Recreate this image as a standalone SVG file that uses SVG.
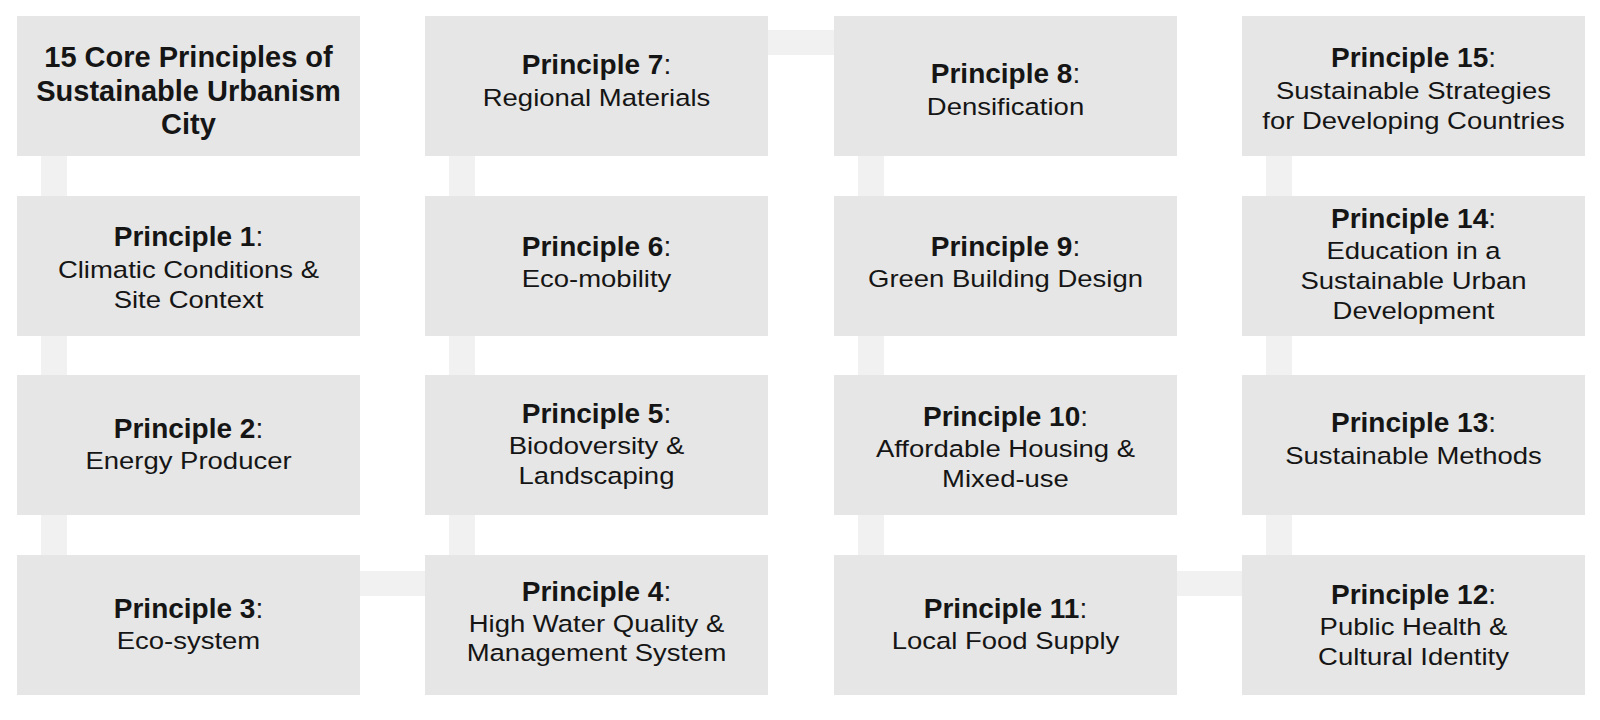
<svg xmlns="http://www.w3.org/2000/svg" width="1600" height="720" viewBox="0 0 1600 720">
<style>
.box{fill:#e6e6e6}
.con{fill:#f1f1f1}
text{font-family:"Liberation Sans",Arial,sans-serif;fill:#151515;text-anchor:middle}
.h{font-size:28px;font-weight:bold}
.t{font-size:29px;font-weight:bold}
.h tspan.c{font-weight:normal}
.s{font-size:23.5px}
</style>
<rect width="1600" height="720" fill="#ffffff"/>
<g id="connectors">
<rect class="con" x="41" y="156" width="26" height="40"/>
<rect class="con" x="41" y="336" width="26" height="39"/>
<rect class="con" x="41" y="515" width="26" height="40"/>
<rect class="con" x="360" y="571" width="65" height="25"/>
<rect class="con" x="449" y="515" width="26" height="40"/>
<rect class="con" x="449" y="336" width="26" height="39"/>
<rect class="con" x="449" y="156" width="26" height="40"/>
<rect class="con" x="768" y="30" width="66" height="25"/>
<rect class="con" x="858" y="156" width="26" height="40"/>
<rect class="con" x="858" y="336" width="26" height="39"/>
<rect class="con" x="858" y="515" width="26" height="40"/>
<rect class="con" x="1177" y="571" width="65" height="25"/>
<rect class="con" x="1266" y="515" width="26" height="40"/>
<rect class="con" x="1266" y="336" width="26" height="39"/>
<rect class="con" x="1266" y="156" width="26" height="40"/>
</g>
<g id="title">
<rect class="box" x="17" y="16" width="343" height="140"/>
<text class="t" x="188.5" y="67">15 Core Principles of</text>
<text class="t" x="188.5" y="101">Sustainable Urbanism</text>
<text class="t" x="188.5" y="134">City</text>
</g>
<g id="p1">
<rect class="box" x="17" y="196" width="343" height="140"/>
<text class="h" x="188.5" y="246">Principle 1<tspan class="c">:</tspan></text>
<text class="s" transform="translate(188.5 0) scale(1.17 1)" x="0" y="278">Climatic Conditions &amp;</text>
<text class="s" transform="translate(188.5 0) scale(1.17 1)" x="0" y="308">Site Context</text>
</g>
<g id="p2">
<rect class="box" x="17" y="375" width="343" height="140"/>
<text class="h" x="188.5" y="438">Principle 2<tspan class="c">:</tspan></text>
<text class="s" transform="translate(188.5 0) scale(1.17 1)" x="0" y="469">Energy Producer</text>
</g>
<g id="p3">
<rect class="box" x="17" y="555" width="343" height="140"/>
<text class="h" x="188.5" y="618">Principle 3<tspan class="c">:</tspan></text>
<text class="s" transform="translate(188.5 0) scale(1.17 1)" x="0" y="649">Eco-system</text>
</g>
<g id="p4">
<rect class="box" x="425" y="555" width="343" height="140"/>
<text class="h" x="596.5" y="601">Principle 4<tspan class="c">:</tspan></text>
<text class="s" transform="translate(596.5 0) scale(1.17 1)" x="0" y="632">High Water Quality &amp;</text>
<text class="s" transform="translate(596.5 0) scale(1.17 1)" x="0" y="661">Management System</text>
</g>
<g id="p5">
<rect class="box" x="425" y="375" width="343" height="140"/>
<text class="h" x="596.5" y="423">Principle 5<tspan class="c">:</tspan></text>
<text class="s" transform="translate(596.5 0) scale(1.17 1)" x="0" y="454">Biodoversity &amp;</text>
<text class="s" transform="translate(596.5 0) scale(1.17 1)" x="0" y="484">Landscaping</text>
</g>
<g id="p6">
<rect class="box" x="425" y="196" width="343" height="140"/>
<text class="h" x="596.5" y="256">Principle 6<tspan class="c">:</tspan></text>
<text class="s" transform="translate(596.5 0) scale(1.17 1)" x="0" y="287">Eco-mobility</text>
</g>
<g id="p7">
<rect class="box" x="425" y="16" width="343" height="140"/>
<text class="h" x="596.5" y="74">Principle 7<tspan class="c">:</tspan></text>
<text class="s" transform="translate(596.5 0) scale(1.17 1)" x="0" y="106">Regional Materials</text>
</g>
<g id="p8">
<rect class="box" x="834" y="16" width="343" height="140"/>
<text class="h" x="1005.5" y="83">Principle 8<tspan class="c">:</tspan></text>
<text class="s" transform="translate(1005.5 0) scale(1.17 1)" x="0" y="115">Densification</text>
</g>
<g id="p9">
<rect class="box" x="834" y="196" width="343" height="140"/>
<text class="h" x="1005.5" y="256">Principle 9<tspan class="c">:</tspan></text>
<text class="s" transform="translate(1005.5 0) scale(1.17 1)" x="0" y="287">Green Building Design</text>
</g>
<g id="p10">
<rect class="box" x="834" y="375" width="343" height="140"/>
<text class="h" x="1005.5" y="426">Principle 10<tspan class="c">:</tspan></text>
<text class="s" transform="translate(1005.5 0) scale(1.17 1)" x="0" y="457">Affordable Housing &amp;</text>
<text class="s" transform="translate(1005.5 0) scale(1.17 1)" x="0" y="487">Mixed-use</text>
</g>
<g id="p11">
<rect class="box" x="834" y="555" width="343" height="140"/>
<text class="h" x="1005.5" y="618">Principle 11<tspan class="c">:</tspan></text>
<text class="s" transform="translate(1005.5 0) scale(1.17 1)" x="0" y="649">Local Food Supply</text>
</g>
<g id="p12">
<rect class="box" x="1242" y="555" width="343" height="140"/>
<text class="h" x="1413.5" y="604">Principle 12<tspan class="c">:</tspan></text>
<text class="s" transform="translate(1413.5 0) scale(1.17 1)" x="0" y="635">Public Health &amp;</text>
<text class="s" transform="translate(1413.5 0) scale(1.17 1)" x="0" y="665">Cultural Identity</text>
</g>
<g id="p13">
<rect class="box" x="1242" y="375" width="343" height="140"/>
<text class="h" x="1413.5" y="432">Principle 13<tspan class="c">:</tspan></text>
<text class="s" transform="translate(1413.5 0) scale(1.17 1)" x="0" y="464">Sustainable Methods</text>
</g>
<g id="p14">
<rect class="box" x="1242" y="196" width="343" height="140"/>
<text class="h" x="1413.5" y="228">Principle 14<tspan class="c">:</tspan></text>
<text class="s" transform="translate(1413.5 0) scale(1.17 1)" x="0" y="259">Education in a</text>
<text class="s" transform="translate(1413.5 0) scale(1.17 1)" x="0" y="289">Sustainable Urban</text>
<text class="s" transform="translate(1413.5 0) scale(1.17 1)" x="0" y="319">Development</text>
</g>
<g id="p15">
<rect class="box" x="1242" y="16" width="343" height="140"/>
<text class="h" x="1413.5" y="67">Principle 15<tspan class="c">:</tspan></text>
<text class="s" transform="translate(1413.5 0) scale(1.17 1)" x="0" y="99">Sustainable Strategies</text>
<text class="s" transform="translate(1413.5 0) scale(1.17 1)" x="0" y="129">for Developing Countries</text>
</g>
</svg>
